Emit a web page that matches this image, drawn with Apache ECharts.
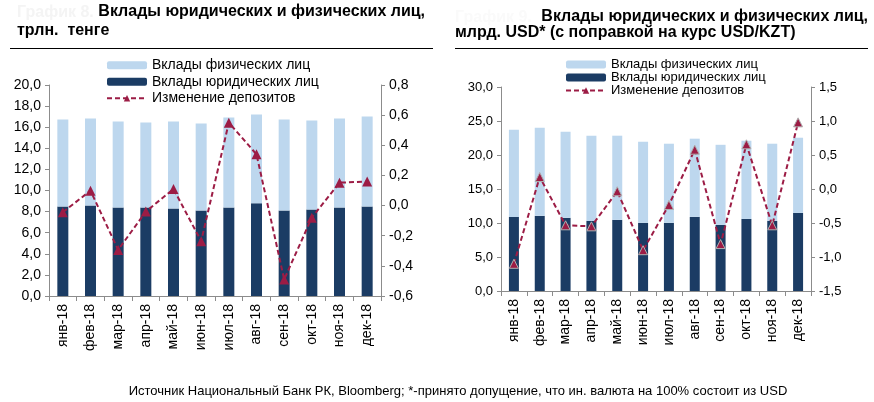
<!DOCTYPE html>
<html><head><meta charset="utf-8">
<script src="https://cdn.jsdelivr.net/npm/echarts@6/dist/echarts.min.js"></script>
<style>html,body{margin:0;padding:0;background:#fff}#c{width:874px;height:402px}</style>
</head><body><div id="c"></div>
<script>
const categories = ['янв-18','фев-18','мар-18','апр-18','май-18','июн-18','июл-18','авг-18','сен-18','окт-18','ноя-18','дек-18'];
// Left chart: trln tenge
const kztLegal    = [8.49, 8.59, 8.40, 8.40, 8.30, 8.11, 8.40, 8.78, 8.11, 8.21, 8.40, 8.49];
const kztPhysical = [8.25, 8.24, 8.15, 8.05, 8.25, 8.25, 8.52, 8.42, 8.63, 8.43, 8.43, 8.53];
const kztChange   = [-0.044, 0.099, -0.294, -0.04, 0.11, -0.236, 0.55, 0.34, -0.49, -0.08, 0.152, 0.159];
// Right chart: bln USD
const usdLegal    = [10.90, 11.05, 10.76, 10.31, 10.46, 10.02, 10.02, 10.90, 9.72, 10.60, 10.31, 11.49];
const usdPhysical = [12.82, 12.95, 12.67, 12.53, 12.38, 11.93, 11.64, 11.50, 11.78, 11.50, 11.35, 11.05];
const usdChange   = [-1.10, 0.176, -0.534, -0.549, -0.034, -0.90, -0.235, 0.578, -0.81, 0.657, -0.534, 0.98];
const names = ['Вклады физических лиц','Вклады юридических лиц','Изменение депозитов'];

const FONT = '"Liberation Sans", Arial, sans-serif';
const LIGHT = '#bdd7ee', DARK = '#1b3c64', RED = '#9c1c45', AX = '#8c8c8c';
const fmt = v => (Math.abs(v) < 1e-9 ? 0 : v).toFixed(1).replace('.', ',');

function xAxis(gi, fs){
  return {type:'category', gridIndex:gi, data:categories, boundaryGap:true,
    axisLine:{lineStyle:{color:AX}}, axisTick:{show:true, length:5, lineStyle:{color:AX}},
    axisLabel:{rotate:90, color:'#000', fontSize:fs, fontFamily:FONT, margin:8}};
}
function yAxis(gi, min, max, iv, pos, fs){
  return {type:'value', gridIndex:gi, min:min, max:max, interval:iv, position:pos,
    splitLine:{show:false}, axisLine:{show:true, lineStyle:{color:AX}},
    axisTick:{show:true, length:4, lineStyle:{color:AX}},
    axisLabel:{color:'#000', fontSize:fs, fontFamily:FONT, formatter:fmt, margin:8}};
}

const chart = echarts.init(document.getElementById('c'), null, {renderer:'canvas'});
chart.setOption({
  animation:false,
  backgroundColor:'#fff',
  grid:[
    {left:49, right:493, top:85, bottom:106},
    {left:501, right:63, top:87, bottom:111}
  ],
  xAxis:[xAxis(0,14), xAxis(1,14)],
  yAxis:[yAxis(0,0,20,2,'left',14), yAxis(0,-0.6,0.8,0.2,'right',14),
         yAxis(1,0,30,5,'left',13), yAxis(1,-1.5,1.5,0.5,'right',13)],
  legend:[
    {orient:'vertical', left:106, top:57, padding:0, itemWidth:40, itemHeight:8, itemGap:0,
     data:names, textStyle:{fontSize:14, lineHeight:16.5, fontFamily:FONT, color:'#000'}, selectedMode:false},
    {orient:'vertical', left:565, top:58, padding:0, itemWidth:40, itemHeight:8, itemGap:0,
     data:names, textStyle:{fontSize:13, lineHeight:12.5, fontFamily:FONT, color:'#000'}, selectedMode:false}
  ],
  series:[
    {name:names[1], type:'bar', stack:'a', xAxisIndex:0, yAxisIndex:0, data:kztLegal, barWidth:11, itemStyle:{color:DARK}},
    {name:names[0], type:'bar', stack:'a', xAxisIndex:0, yAxisIndex:0, data:kztPhysical, barWidth:11, itemStyle:{color:LIGHT}},
    {name:names[2], type:'line', xAxisIndex:0, yAxisIndex:1, data:kztChange, symbol:'triangle', symbolSize:10,
     lineStyle:{color:RED, width:2, type:[5,3]}, itemStyle:{color:RED}},
    {name:names[1], type:'bar', stack:'b', xAxisIndex:1, yAxisIndex:2, data:usdLegal, barWidth:10, itemStyle:{color:DARK}},
    {name:names[0], type:'bar', stack:'b', xAxisIndex:1, yAxisIndex:2, data:usdPhysical, barWidth:10, itemStyle:{color:LIGHT}},
    {name:names[2], type:'line', xAxisIndex:1, yAxisIndex:3, data:usdChange, symbol:'triangle', symbolSize:9,
     lineStyle:{color:RED, width:2, type:[5,3]}, itemStyle:{color:RED, borderColor:'#b0b0b0', borderWidth:1}}
  ],
  graphic:[
    {type:'text', left:17, top:5, style:{text:'График 8.', font:'bold 16px '+FONT, fill:'#f4f4f4'}},
    {type:'text', right:449, top:4, style:{text:'Вклады юридических и физических лиц,', font:'bold 16px '+FONT, fill:'#000'}},
    {type:'text', left:17, top:23, style:{text:'трлн.  тенге', font:'bold 16px '+FONT, fill:'#000'}},
    {type:'line', shape:{x1:10, y1:48.5, x2:433, y2:48.5}, style:{stroke:'#000', lineWidth:1}},
    {type:'text', left:455, top:10, style:{text:'График 9.', font:'bold 16px '+FONT, fill:'#fafafa'}},
    {type:'text', right:6, top:9, style:{text:'Вклады юридических и физических лиц,', font:'bold 16px '+FONT, fill:'#000'}},
    {type:'text', left:455, top:25, style:{text:'млрд. USD* (с поправкой на курс USD/KZT)', font:'bold 16px '+FONT, fill:'#000'}},
    {type:'line', shape:{x1:455, y1:48.5, x2:868, y2:48.5}, style:{stroke:'#000', lineWidth:1}},
    {type:'text', x:458, y:391, style:{text:'Источник Национальный Банк РК, Bloomberg; *-принято допущение, что ин. валюта на 100% состоит из USD',
      font:'13px '+FONT, fill:'#000', textAlign:'center', textVerticalAlign:'middle'}}
  ]
});
</script></body></html>
